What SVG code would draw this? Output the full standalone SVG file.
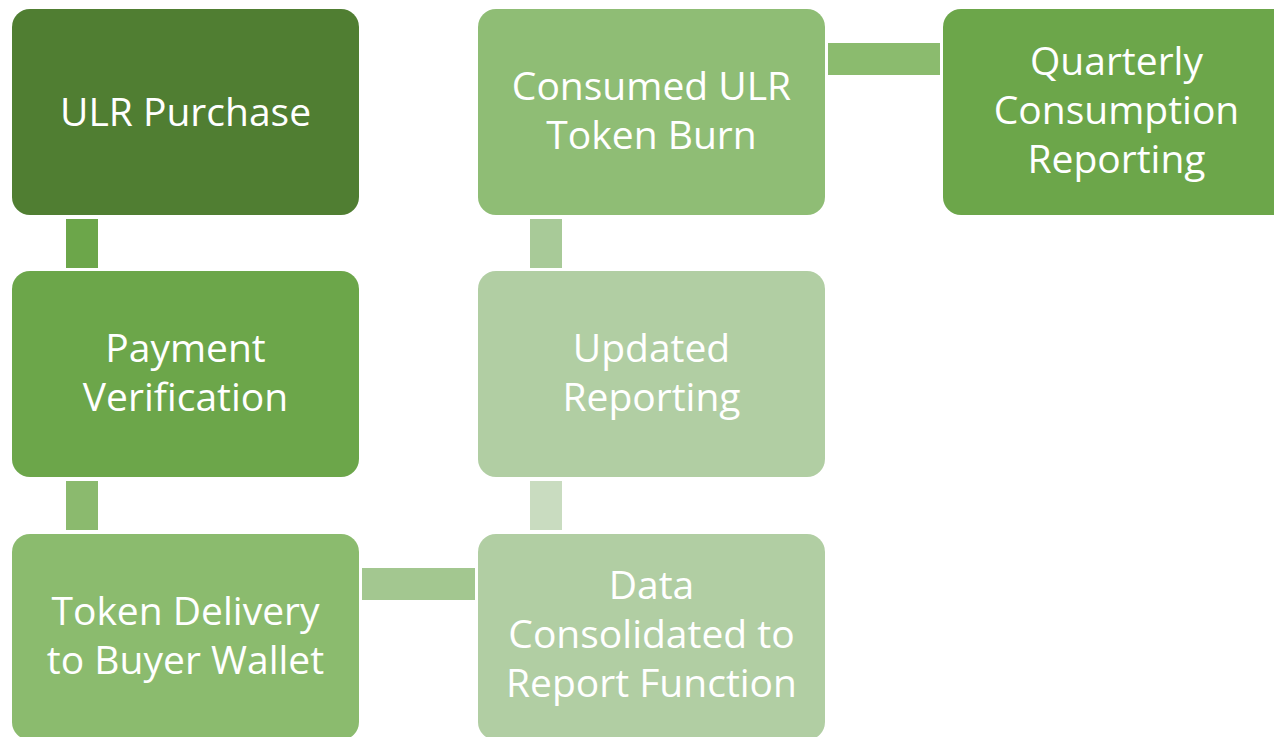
<svg xmlns="http://www.w3.org/2000/svg" width="1274" height="737" viewBox="0 0 1274 737">
<style>
.b{rx:18px;ry:18px}
text{font-family:"Open Sans","Noto Sans","Liberation Sans",sans-serif;font-size:39px;fill:#ffffff;text-anchor:middle}
</style>
<rect width="1274" height="737" fill="#ffffff"/>
<g id="connectors">
<rect x="66" y="219" width="32" height="49" fill="#6ca64a"/>
<rect x="66" y="481" width="32" height="49" fill="#8bba6e"/>
<rect x="362" y="568" width="113" height="32" fill="#a3c790"/>
<rect x="530" y="481" width="32" height="49" fill="#c9dcc0"/>
<rect x="530" y="219" width="32" height="49" fill="#a8ca98"/>
<rect x="828" y="43" width="112" height="32" fill="#8bbb6e"/>
</g>
<g id="n1"><rect class="b" x="12" y="9" width="347" height="206" fill="#507e32"/><text x="185.5" y="126">ULR Purchase</text></g>
<g id="n2"><rect class="b" x="12" y="271" width="347" height="206" fill="#6ca64a"/><text x="185.5" y="362">Payment</text><text x="185.5" y="411">Verification</text></g>
<g id="n3"><rect class="b" x="12" y="534" width="347" height="206" fill="#8bbb6e"/><text x="185.5" y="625">Token Delivery</text><text x="185.5" y="674">to Buyer Wallet</text></g>
<g id="n4"><rect class="b" x="478" y="534" width="347" height="206" fill="#b1cea3"/><text x="651.5" y="599">Data</text><text x="651.5" y="648">Consolidated to</text><text x="651.5" y="697">Report Function</text></g>
<g id="n5"><rect class="b" x="478" y="271" width="347" height="206" fill="#b1cea3"/><text x="651.5" y="362">Updated</text><text x="651.5" y="411">Reporting</text></g>
<g id="n6"><rect class="b" x="478" y="9" width="347" height="206" fill="#8fbd75"/><text x="651.5" y="100">Consumed ULR</text><text x="651.5" y="149">Token Burn</text></g>
<g id="n7"><rect class="b" x="943" y="9" width="347" height="206" fill="#6ca64a"/><text x="1116.5" y="75">Quarterly</text><text x="1116.5" y="124">Consumption</text><text x="1116.5" y="173">Reporting</text></g>
</svg>
